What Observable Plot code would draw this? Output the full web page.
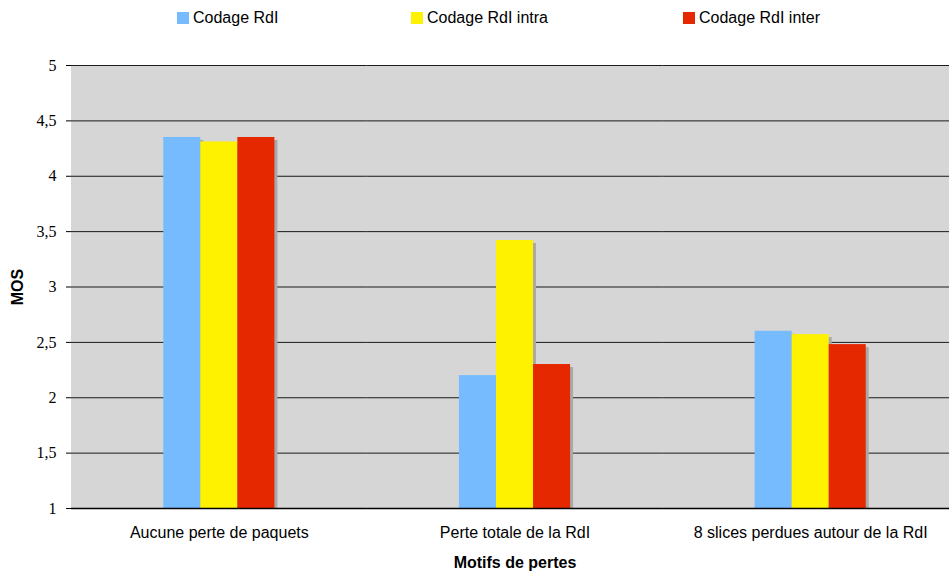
<!DOCTYPE html>
<html>
<head>
<meta charset="utf-8">
<script src="https://cdn.jsdelivr.net/npm/d3@7"></script>
<script src="https://cdn.jsdelivr.net/npm/@observablehq/plot@0.6"></script>
<style>
  html, body { margin: 0; padding: 0; background: #fff; overflow: hidden; }
  #legend { position: relative; height: 34px; font-family: "Liberation Sans", Arial, sans-serif; font-size: 16px; color: #000; }
  #legend .item { position: absolute; top: 9px; display: flex; align-items: center; white-space: nowrap; }
  #legend .sw { width: 12px; height: 12px; margin-right: 4px; }
  #chart svg { overflow: hidden; }
  #chart [aria-label="fx-axis label"] text, #chart [aria-label="y-axis label"] text { font-weight: bold; font-family: "Liberation Sans", Arial, sans-serif; }
</style>
</head>
<body>
<div id="legend"></div>
<div id="chart"></div>
<script>
const categories = ["Aucune perte de paquets", "Perte totale de la RdI", "8 slices perdues autour de la RdI"];
const series = ["Codage RdI", "Codage RdI intra", "Codage RdI inter"];
const colors = ["#77bbff", "#fff200", "#e62800"];
const valuesRdI = [4.35, 2.20, 2.60];
const valuesIntra = [4.31, 3.42, 2.57];
const valuesInter = [4.35, 2.30, 2.48];
const yTicks = [1, 1.5, 2, 2.5, 3, 3.5, 4, 4.5, 5];
const baseline = 1;

const seriesValues = [valuesRdI, valuesIntra, valuesInter];
const data = [];
categories.forEach((c, i) => series.forEach((s, j) => data.push({cat: c, series: s, value: seriesValues[j][i]})));

// legend
const legendPos = [177, 411, 683];
const legend = document.getElementById("legend");
series.forEach((s, j) => {
  const it = document.createElement("div");
  it.className = "item";
  it.style.left = legendPos[j] + "px";
  it.innerHTML = `<span class="sw" style="background:${colors[j]}"></span><span>${s}</span>`;
  legend.appendChild(it);
});

const fmt = d => String(d).replace(".", ",");

const chart = Plot.plot({
  width: 949,
  height: 541,
  marginTop: 31,
  marginBottom: 67,
  marginLeft: 71,
  marginRight: 0,
  style: {fontFamily: "Liberation Sans, Arial, sans-serif", fontSize: "16px", color: "#000", background: "#fff"},
  fx: {domain: categories, range: [71, 958], padding: 0, round: false},
  x: {domain: series, paddingInner: 0, paddingOuter: 2.49, round: false, axis: null},
  y: {domain: [1, 5]},
  color: {domain: series, range: colors},
  marks: [
    Plot.frame({fill: "#d6d6d6", stroke: "none", insetLeft: -1, insetRight: -1, shapeRendering: "crispEdges"}),
    Plot.ruleY(yTicks, {stroke: "#1a1a1a", strokeWidth: 1}),
    Plot.barY(data, {fx: "cat", x: "series", y1: baseline, y2: "value", fill: "#a9a9a9", dx: 3, dy: 3, clip: true}),
    Plot.barY(data, {fx: "cat", x: "series", y1: baseline, y2: "value", fill: "series"}),
    Plot.ruleY([baseline], {stroke: "#000", strokeWidth: 1.5}),
    Plot.axisY({ticks: yTicks, tickFormat: fmt, tickSize: 5, tickPadding: 10, fontSize: 16, fontFamily: "Liberation Serif, Times New Roman, serif", label: "MOS", labelArrow: false, labelAnchor: "center", labelOffset: 60, line: true, stroke: "#000"}),
    Plot.axisFx({anchor: "bottom", tickSize: 0, tickPadding: 18, fontSize: 16, label: "Motifs de pertes", labelArrow: false, labelAnchor: "center", labelOffset: 59})
  ]
});
document.getElementById("chart").appendChild(chart);
</script>
</body>
</html>
